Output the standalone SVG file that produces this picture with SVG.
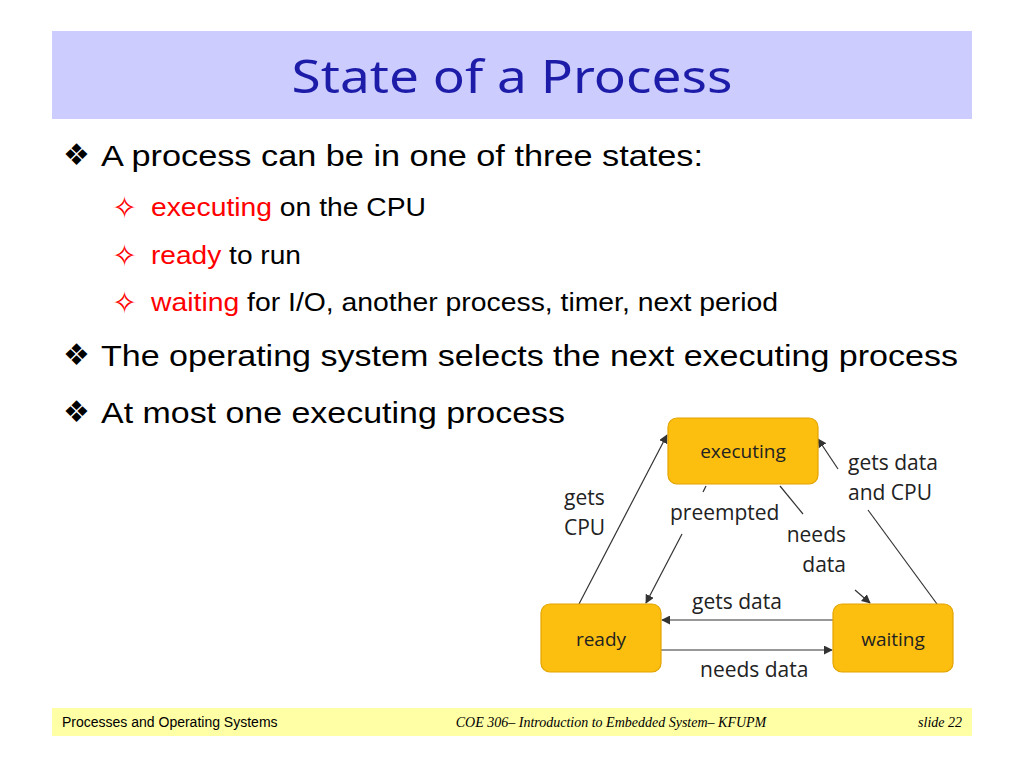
<svg xmlns="http://www.w3.org/2000/svg" width="1024" height="768" viewBox="0 0 1024 768">
<style>
.body{font-family:"Liberation Sans",Arial,sans-serif;fill:#000}
.red{fill:#ff0000}
.b1{font-family:"DejaVu Sans",sans-serif;font-size:30px;fill:#000}
.b2{font-family:"DejaVu Sans",sans-serif;font-size:30px;fill:#ff0000}
.lbl{font-family:"Open Sans","Noto Sans",sans-serif;font-size:21px;fill:#222}
.nl{font-family:"Open Sans","Noto Sans",sans-serif;font-size:19px;fill:#222}
.node{fill:#fdbf0f;stroke:#e3a400;stroke-width:1.2}
.edge{stroke:#333;stroke-width:1.2;fill:none;marker-end:url(#ah)}
.seg{stroke:#333;stroke-width:1.2;fill:none}
.foot{font-size:14px}
</style>
<defs>
<marker id="ah" viewBox="0 0 10 10" refX="9" refY="5" markerWidth="9" markerHeight="9" markerUnits="userSpaceOnUse" orient="auto">
<path d="M0,0 L10,5 L0,10 z" fill="#333"/>
</marker>
</defs>
<rect width="1024" height="768" fill="#fff"/>
<rect x="52" y="31" width="920" height="88" fill="#ccccff"/>
<text x="512" y="93" text-anchor="middle" font-family="'Noto Sans',sans-serif" font-size="46" fill="#1c1ca8" textLength="441" lengthAdjust="spacingAndGlyphs">State of a Process</text>

<g id="bullets">
<text class="b1" x="63" y="165">❖</text>
<text class="body" x="101" y="166" font-size="30" textLength="602" lengthAdjust="spacingAndGlyphs">A process can be in one of three states:</text>
<text class="b2" x="112" y="218">✧</text>
<text class="body" x="151" y="216" font-size="25" textLength="275" lengthAdjust="spacingAndGlyphs"><tspan class="red">executing</tspan> on the CPU</text>
<text class="b2" x="112" y="266">✧</text>
<text class="body" x="151" y="264" font-size="25" textLength="150" lengthAdjust="spacingAndGlyphs"><tspan class="red">ready</tspan> to run</text>
<text class="b2" x="112" y="313">✧</text>
<text class="body" x="151" y="311" font-size="25" textLength="627" lengthAdjust="spacingAndGlyphs"><tspan class="red">waiting</tspan> for I/O, another process, timer, next period</text>
<text class="b1" x="63" y="365">❖</text>
<text class="body" x="101" y="366" font-size="30" textLength="857" lengthAdjust="spacingAndGlyphs">The operating system selects the next executing process</text>
<text class="b1" x="63" y="422">❖</text>
<text class="body" x="101" y="423" font-size="30" textLength="464" lengthAdjust="spacingAndGlyphs">At most one executing process</text>
</g>

<g id="connectors">
<line class="edge" x1="579" y1="604" x2="667" y2="435"/>
<line class="seg" x1="706" y1="486" x2="703" y2="492"/>
<line class="edge" x1="682" y1="534" x2="646" y2="603"/>
<line class="seg" x1="780" y1="486" x2="803" y2="514"/>
<line class="edge" x1="855" y1="590" x2="870" y2="603"/>
<line class="seg" x1="937" y1="604" x2="868" y2="510"/>
<line class="edge" x1="838" y1="469" x2="818" y2="439"/>
<line class="edge" x1="833" y1="620" x2="662" y2="620"/>
<line class="edge" x1="661" y1="650" x2="832" y2="650"/>
</g>

<g id="executing">
<rect class="node" x="668" y="418" width="150" height="66" rx="9"/>
<text class="nl" x="743" y="458" text-anchor="middle">executing</text>
</g>
<g id="ready">
<rect class="node" x="541" y="604" width="120" height="68" rx="9"/>
<text class="nl" x="601" y="646" text-anchor="middle">ready</text>
</g>
<g id="waiting">
<rect class="node" x="833" y="604" width="120" height="68" rx="9"/>
<text class="nl" x="893" y="646" text-anchor="middle">waiting</text>
</g>

<g id="labels">
<text class="lbl" x="564" y="505">gets</text>
<text class="lbl" x="564" y="535">CPU</text>
<text class="lbl" x="670" y="520">preempted</text>
<text class="lbl" x="846" y="542" text-anchor="end">needs</text>
<text class="lbl" x="846" y="572" text-anchor="end">data</text>
<text class="lbl" x="848" y="470">gets data</text>
<text class="lbl" x="848" y="500">and CPU</text>
<text class="lbl" x="692" y="609">gets data</text>
<text class="lbl" x="700" y="677">needs data</text>
</g>

<g id="footer">
<rect x="52" y="708" width="920" height="28" fill="#ffffa6"/>
<text class="body foot" x="62" y="727">Processes and Operating Systems</text>
<text x="611" y="727" text-anchor="middle" font-family="'Liberation Serif',serif" font-style="italic" font-size="14">COE 306– Introduction to Embedded System– KFUPM</text>
<text x="962" y="727" text-anchor="end" font-family="'Liberation Serif',serif" font-style="italic" font-size="14">slide 22</text>
</g>
</svg>
